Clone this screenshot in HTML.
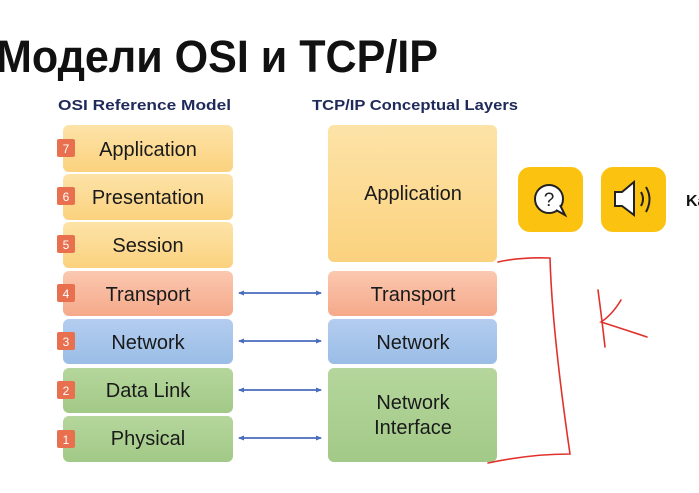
<!DOCTYPE html>
<html><head><meta charset="utf-8"><style>
html,body{margin:0;padding:0;background:#fff;}
svg{display:block;}
text{font-family:"Liberation Sans","DejaVu Sans",sans-serif;}
</style></head><body>
<svg width="699" height="493" viewBox="0 0 699 493" xmlns="http://www.w3.org/2000/svg">
<defs>
<linearGradient id="y" x1="0" y1="0" x2="0" y2="1"><stop offset="0" stop-color="#fde3a8"/><stop offset="1" stop-color="#fbd27e"/></linearGradient>
<linearGradient id="o" x1="0" y1="0" x2="0" y2="1"><stop offset="0" stop-color="#fbc8b0"/><stop offset="1" stop-color="#f5a98a"/></linearGradient>
<linearGradient id="b" x1="0" y1="0" x2="0" y2="1"><stop offset="0" stop-color="#b4cdf0"/><stop offset="1" stop-color="#9abde6"/></linearGradient>
<linearGradient id="g" x1="0" y1="0" x2="0" y2="1"><stop offset="0" stop-color="#b5d69c"/><stop offset="1" stop-color="#a2c987"/></linearGradient>
<marker id="ah" markerWidth="6" markerHeight="5" refX="5" refY="2.5" orient="auto-start-reverse" markerUnits="userSpaceOnUse"><path d="M0,0 L6,2.5 L0,5 z" fill="#4a6cc0"/></marker>
</defs>
<text x="-4" y="72" font-size="45" font-weight="bold" fill="#111" textLength="442" lengthAdjust="spacingAndGlyphs">Модели OSI и TCP/IP</text>
<text x="58" y="110" font-size="15" font-weight="bold" fill="#1f2a5a" textLength="173" lengthAdjust="spacingAndGlyphs">OSI Reference Model</text>
<text x="312" y="110" font-size="15" font-weight="bold" fill="#1f2a5a" textLength="206" lengthAdjust="spacingAndGlyphs">TCP/IP Conceptual Layers</text>

<g font-size="20" fill="#1a1a1a" text-anchor="middle">
<rect x="63" y="125" width="170" height="47" rx="6" fill="url(#y)"/><text x="148" y="156">Application</text>
<rect x="63" y="174" width="170" height="46" rx="6" fill="url(#y)"/><text x="148" y="204">Presentation</text>
<rect x="63" y="222" width="170" height="46" rx="6" fill="url(#y)"/><text x="148" y="252">Session</text>
<rect x="63" y="271" width="170" height="45" rx="6" fill="url(#o)"/><text x="148" y="301">Transport</text>
<rect x="63" y="319" width="170" height="45" rx="6" fill="url(#b)"/><text x="148" y="349">Network</text>
<rect x="63" y="368" width="170" height="45" rx="6" fill="url(#g)"/><text x="148" y="397">Data Link</text>
<rect x="63" y="416" width="170" height="46" rx="6" fill="url(#g)"/><text x="148" y="445">Physical</text>

<rect x="328" y="125" width="169" height="137" rx="6" fill="url(#y)"/><text x="413" y="200">Application</text>
<rect x="328" y="271" width="169" height="45" rx="6" fill="url(#o)"/><text x="413" y="301">Transport</text>
<rect x="328" y="319" width="169" height="45" rx="6" fill="url(#b)"/><text x="413" y="349">Network</text>
<rect x="328" y="368" width="169" height="94" rx="6" fill="url(#g)"/><text x="413" y="409">Network</text><text x="413" y="434">Interface</text>
</g>

<g fill="#e8704f">
<rect x="57" y="139" width="18" height="18" rx="2"/>
<rect x="57" y="187" width="18" height="18" rx="2"/>
<rect x="57" y="235" width="18" height="18" rx="2"/>
<rect x="57" y="284" width="18" height="18" rx="2"/>
<rect x="57" y="332" width="18" height="18" rx="2"/>
<rect x="57" y="381" width="18" height="18" rx="2"/>
<rect x="57" y="430" width="18" height="18" rx="2"/>
</g>
<g font-size="12" fill="#fff" text-anchor="middle">
<text x="66" y="153">7</text><text x="66" y="201">6</text><text x="66" y="249">5</text><text x="66" y="298">4</text><text x="66" y="346">3</text><text x="66" y="395">2</text><text x="66" y="444">1</text>
</g>

<g stroke="#4a6cc0" stroke-width="1.8" marker-start="url(#ah)" marker-end="url(#ah)">
<line x1="239" y1="293" x2="321" y2="293"/>
<line x1="239" y1="341" x2="321" y2="341"/>
<line x1="239" y1="390" x2="321" y2="390"/>
<line x1="239" y1="438" x2="321" y2="438"/>
</g>

<rect x="518" y="167" width="65" height="65" rx="12" fill="#fbc20f"/>
<rect x="601" y="167" width="65" height="65" rx="12" fill="#fbc20f"/>
<circle cx="549" cy="199" r="14" fill="#fff" stroke="#222" stroke-width="2"/>
<path d="M556,210 L565,215 L560,205" fill="#fff" stroke="#222" stroke-width="2"/>
<text x="549" y="206" font-size="19" text-anchor="middle" fill="#222">?</text>
<path d="M615,192 L622,192 L634,182 L634,215 L622,206 L615,206 Z" fill="#fff" stroke="#222" stroke-width="2"/>
<path d="M641,192 Q645,199 641,206 M646,187 Q653,199 646,212" fill="none" stroke="#222" stroke-width="2"/>
<text x="686" y="206" font-size="16" font-weight="bold" fill="#111">Ka</text>

<g fill="none" stroke="#e0322c" stroke-width="1.6" stroke-linecap="round">
<path d="M498,262 Q520,257 550,258 Q552,330 570,454 Q530,454 488,463"/>
<path d="M598,290 Q602,320 605,347"/>
<path d="M621,300 Q612,315 601,322 Q620,328 647,337"/>
</g>
</svg>
</body></html>
